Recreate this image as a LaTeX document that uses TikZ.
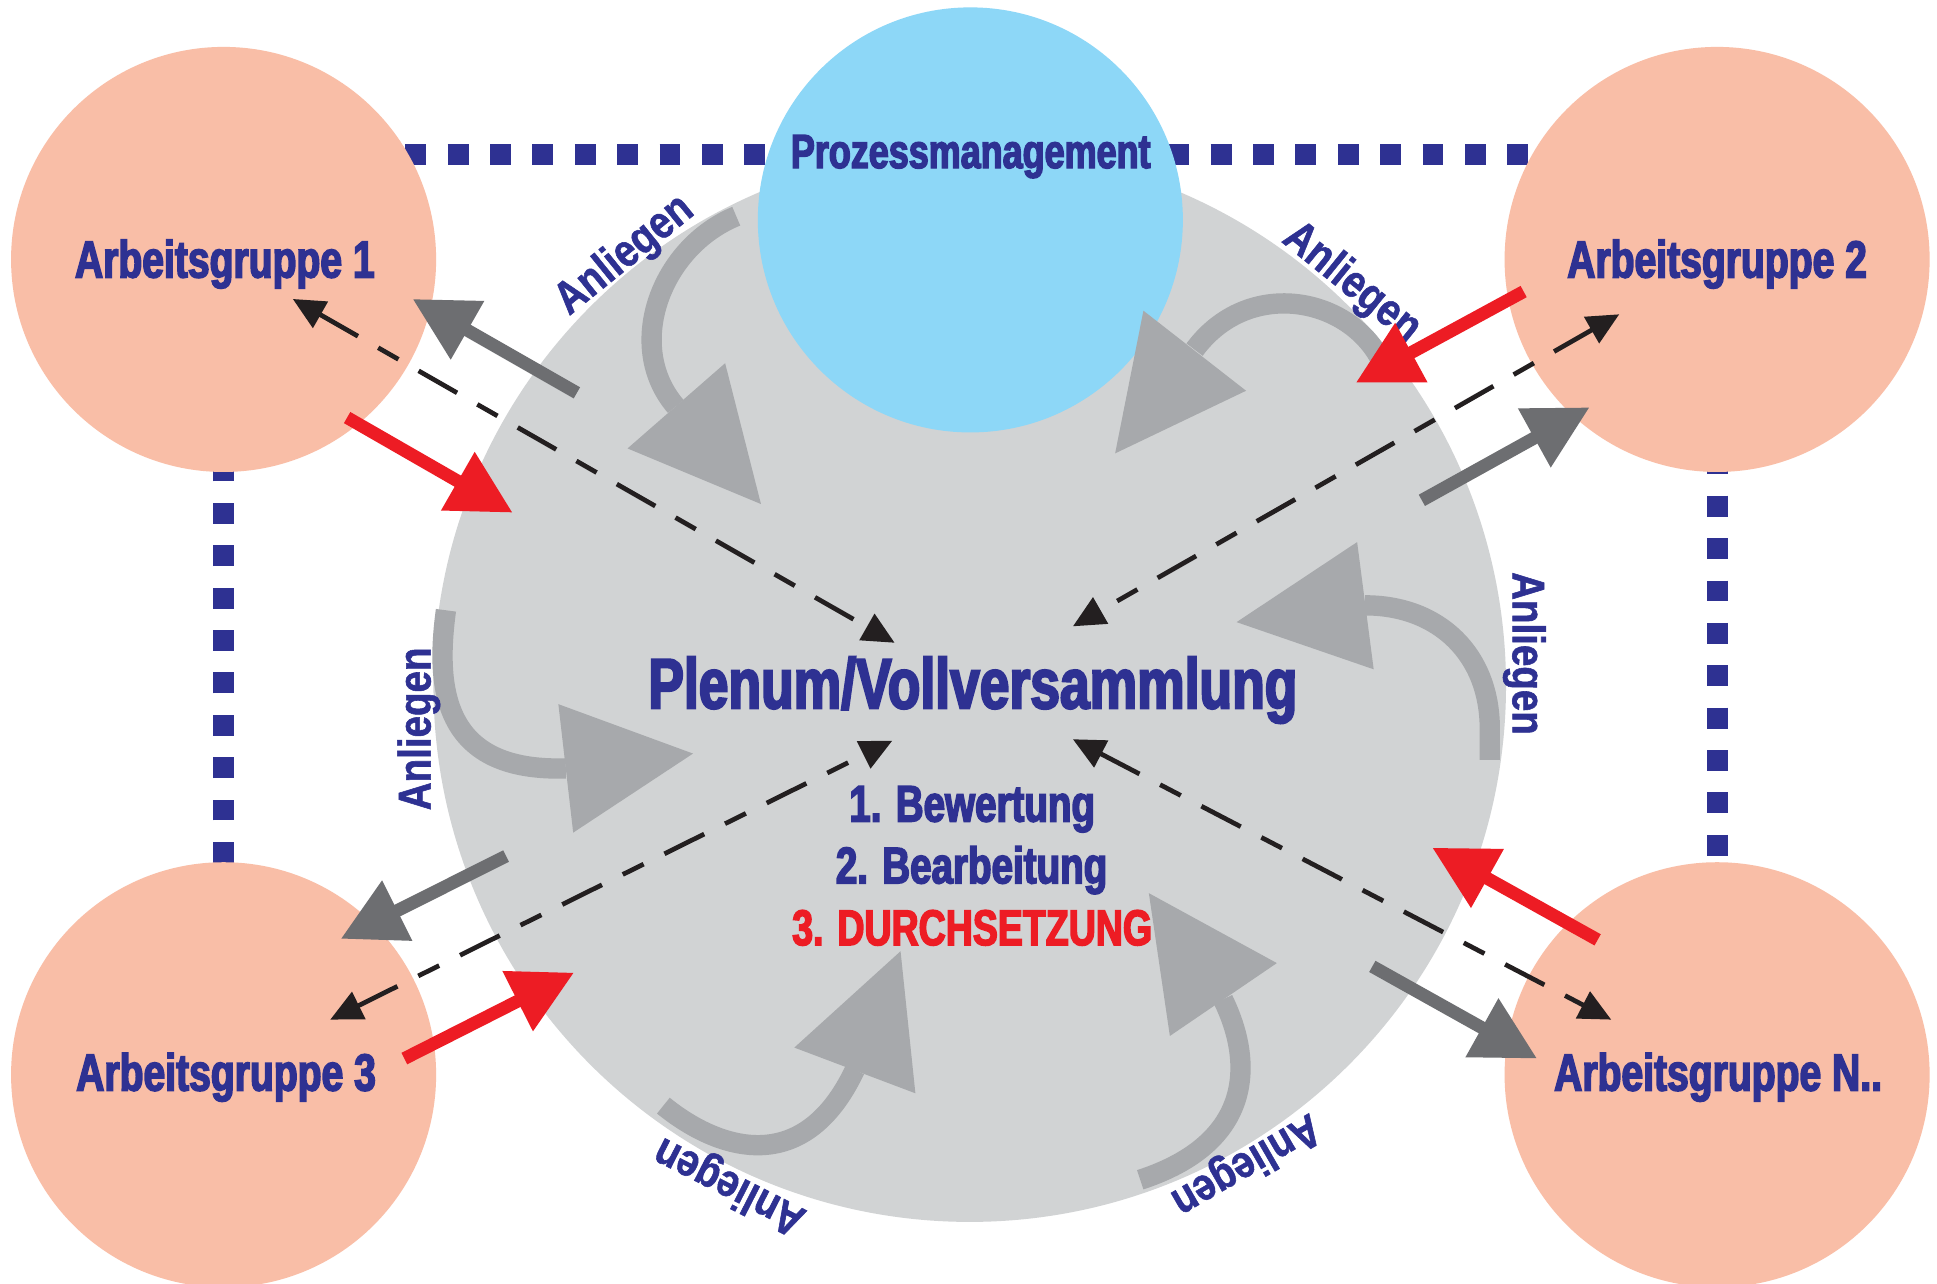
\documentclass[tikz,border=0pt]{standalone}
\usepackage{fontspec}
\setmainfont{Liberation Sans}
\newfontfamily\condf[FakeStretch=0.75, BoldFeatures={FakeBold=3}]{Liberation Sans}
\newfontfamily\anlf[FakeStretch=0.84, BoldFeatures={FakeBold=1.2}]{Liberation Sans}
\usetikzlibrary{arrows.meta}
\definecolor{navy}{HTML}{2E3192}
\definecolor{redA}{HTML}{ED1C24}
\definecolor{peach}{HTML}{F9BEA7}
\definecolor{skyb}{HTML}{8DD7F7}
\definecolor{plgray}{HTML}{D1D3D4}
\definecolor{anlgray}{HTML}{A7A9AC}
\definecolor{dkgray}{HTML}{6D6E71}
\definecolor{blk}{HTML}{231F20}
\begin{document}
\begin{tikzpicture}[x=0.0125cm, y=-0.0125cm,
  agcircle/.style={circle, fill=peach, minimum size=4.3cm, inner sep=0pt},
  frameline/.style={navy, line width=6pt, dash pattern=on 6pt off 6.2pt},
  agtext/.style={text=navy, font=\condf\bfseries\fontsize{15}{18}\selectfont, anchor=base, inner sep=0pt},
  pmtext/.style={text=navy, font=\condf\bfseries\fontsize{13.8}{16}\selectfont, anchor=base, inner sep=0pt},
  pltext/.style={text=navy, font=\condf\bfseries\fontsize{20.5}{24}\selectfont, anchor=base, inner sep=0pt},
  steptext/.style={font=\condf\bfseries\fontsize{14.8}{18}\selectfont, anchor=base, inner sep=0pt},
  anltext/.style={text=navy, font=\anlf\bfseries\fontsize{13.2}{15}\selectfont, inner sep=0pt},
  outarrow/.style={draw=dkgray, line width=3.7pt, -{Triangle[length=18.2pt,width=18.4pt]}},
  inarrow/.style={draw=redA, line width=3.7pt, -{Triangle[length=18.2pt,width=18.4pt]}},
  dasharrow/.style={draw=blk, line width=1.35pt, dash pattern=on 12.75pt off 6.7pt on 6.7pt off 6.7pt,
     {Triangle[length=9.2pt,width=8.5pt]}-{Triangle[length=9.2pt,width=8.5pt]}},
  anlshaft/.style={draw=anlgray, line width=5.85pt},
  anlhead/.style={fill=anlgray}
]
\useasboundingbox (0,0) rectangle (1568,1038.6);
\fill[white] (0,0) rectangle (1568,1038.6);

% circle positions
\coordinate (c1) at (181,210);
\coordinate (c2) at (1390,210);
\coordinate (c3) at (181,870);
\coordinate (c4) at (1390,870);
\coordinate (t1) at (181,125);
\coordinate (t2) at (1390,125);

% dotted frame
\draw[frameline] (c3) -- (t1) -- (t2) -- (c4);

% plenum and process management
\node[circle, fill=plgray, minimum size=10.85cm, inner sep=0pt] (plenum) at (785,555) {};
\node[circle, fill=skyb, minimum size=4.3cm, inner sep=0pt] (pm) at (785.5,178) {};

% working groups
\node[agcircle] (ag1) at (c1) {};
\node[agcircle] (ag2) at (c2) {};
\node[agcircle] (ag3) at (c3) {};
\node[agcircle] (ag4) at (c4) {};

% curved "Anliegen" arrows
\draw[anlshaft] (596,175) .. controls (535,200) and (505,280) .. (547,329);
\fill[anlhead] (587,294) -- (508,363) -- (616,408) -- cycle;
\draw[anlshaft] (1117,290) .. controls (1090,240) and (1010,225) .. (967,283);
\fill[anlhead] (925.6,251.5) -- (1008.7,316.3) -- (902.7,367) -- cycle;
\draw[anlshaft] (1206,615) -- (1206,590) .. controls (1206,530) and (1165,490) .. (1105,490);
\fill[anlhead] (1098.6,438.8) -- (1001,503.6) -- (1112,541.8) -- cycle;
\draw[anlshaft] (923,955) .. controls (1015,925) and (1015,860) .. (990,809);
\fill[anlhead] (930,723) -- (1033.6,779.6) -- (947,838.6) -- cycle;
\draw[anlshaft] (537,895) .. controls (580,930) and (650,955) .. (692,866);
\fill[anlhead] (729,770) -- (643,848) -- (741,885) -- cycle;
\draw[anlshaft] (361,494) .. controls (352,560) and (360,625) .. (458,622);
\fill[anlhead] (452,570) -- (561,610) -- (464,674) -- cycle;

% Anliegen labels
\node[anltext, rotate=39] (l1) at (506,207) {Anliegen};
\node[anltext, rotate=-39] (l2) at (1094,229.5) {Anliegen};
\node[anltext, rotate=-90] (l3) at (1234,529) {Anliegen};
\node[anltext, rotate=210] (l4) at (1008,942) {Anliegen};
\node[anltext, rotate=153] (l5) at (591,959) {Anliegen};
\node[anltext, rotate=90] (l6) at (339,590) {Anliegen};

% arrow end points
\coordinate (g1s) at (467,318);  \coordinate (g1e) at (334,242);
\coordinate (r1s) at (281,338);  \coordinate (r1e) at (415,415);
\coordinate (d1a) at (237,242);  \coordinate (d1b) at (724.2,520.3);
\coordinate (r2s) at (1233.4,236); \coordinate (r2e) at (1097.5,309.8);
\coordinate (d2a) at (1310.8,254.4); \coordinate (d2b) at (868.5,507);
\coordinate (g2s) at (1151,405); \coordinate (g2e) at (1286.8,329.7);
\coordinate (g3s) at (409.7,693); \coordinate (g3e) at (275.8,760);
\coordinate (d3a) at (267.3,825.4); \coordinate (d3b) at (722.3,599.6);
\coordinate (r3s) at (327.3,856.9); \coordinate (r3e) at (464.7,787.3);
\coordinate (r4s) at (1293.3,760.8); \coordinate (r4e) at (1159.4,686.2);
\coordinate (d4a) at (868.5,598.4); \coordinate (d4b) at (1304.3,825.4);
\coordinate (g4s) at (1110.9,782.3); \coordinate (g4e) at (1244.3,856.9);

\draw[outarrow] (g1s) -- (g1e);
\draw[inarrow] (r1s) -- (r1e);
\draw[dasharrow] (d1a) -- (d1b);
\draw[inarrow] (r2s) -- (r2e);
\draw[dasharrow] (d2a) -- (d2b);
\draw[outarrow] (g2s) -- (g2e);
\draw[outarrow] (g3s) -- (g3e);
\draw[dasharrow] (d3a) -- (d3b);
\draw[inarrow] (r3s) -- (r3e);
\draw[inarrow] (r4s) -- (r4e);
\draw[dasharrow] (d4a) -- (d4b);
\draw[outarrow] (g4s) -- (g4e);

% texts
\node[pmtext] (pmt) at (785.8,136) {Prozessmanagement};
\node[agtext] (ag1t) at (182,224.6) {Arbeitsgruppe 1};
\node[agtext] (ag2t) at (1390,224.6) {Arbeitsgruppe 2};
\node[agtext] (ag3t) at (183,882.8) {Arbeitsgruppe 3};
\node[agtext] (ag4t) at (1390.8,882.8) {Arbeitsgruppe N..};
\node[pltext] (plt) at (787.5,573.4) {Plenum/Vollversammlung};
\node[steptext, text=navy] (s1) at (787,665) {1. Bewertung};
\node[steptext, text=navy] (s2) at (786.5,715) {2. Bearbeitung};
\node[steptext, text=redA, font=\condf\bfseries\fontsize{14.4}{18}\selectfont] (s3) at (787,765) {3. DURCHSETZUNG};
\end{tikzpicture}
\end{document}
